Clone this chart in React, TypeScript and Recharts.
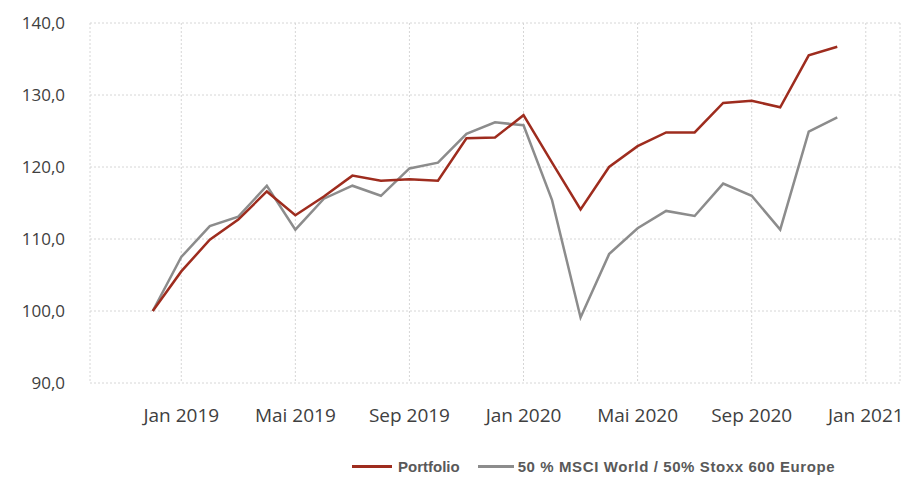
import React from 'react';
import { LineChart, Line, XAxis, YAxis, CartesianGrid } from 'recharts';

// month index 0 = Dez 2018
const months = [
  0, 1, 2, 3, 4, 5, 6, 7, 8, 9, 10, 11, 12, 13, 14, 15, 16, 17, 18, 19, 20, 21, 22, 23, 24,
];
const portfolio = [
  100.0, 105.5, 109.9, 112.7, 116.6, 113.3, 115.9, 118.8, 118.1, 118.3, 118.1, 124.0, 124.1,
  127.2, 120.6, 114.1, 120.0, 122.9, 124.8, 124.8, 128.9, 129.2, 128.3, 135.5, 136.7,
];
const benchmark = [
  100.0, 107.5, 111.8, 113.1, 117.4, 111.3, 115.6, 117.4, 116.0, 119.8, 120.6, 124.6, 126.2,
  125.8, 115.4, 99.1, 107.9, 111.5, 113.9, 113.2, 117.7, 116.0, 111.3, 124.9, 126.9,
];
const xTicks = [1, 5, 9, 13, 17, 21, 25];
const xTickLabels = ['Jan 2019', 'Mai 2019', 'Sep 2019', 'Jan 2020', 'Mai 2020', 'Sep 2020', 'Jan 2021'];
const yTicks = [90, 100, 110, 120, 130, 140];

const RED = '#9E2C1E';
const GRAY = '#8C8C8C';

const data = months.map((m, i) => ({ m, portfolio: portfolio[i], benchmark: benchmark[i] }));

const ChartLegend = () => (
  <div
    style={{
      position: 'absolute',
      top: 458,
      left: 352,
      display: 'flex',
      alignItems: 'center',
      whiteSpace: 'nowrap',
      fontFamily: '"Liberation Sans", Arial, sans-serif',
      fontWeight: 'bold',
      fontSize: 15,
      color: '#595959',
    }}
  >
    <span style={{ width: 40, height: 3, background: RED, marginRight: 6, display: 'inline-block' }} />
    <span style={{ marginRight: 18 }}>Portfolio</span>
    <span style={{ width: 36, height: 3, background: GRAY, marginRight: 4, display: 'inline-block' }} />
    <span style={{ letterSpacing: 0.6 }}>50 % MSCI World / 50% Stoxx 600 Europe</span>
  </div>
);

export default function App() {
  const font = '"Open Sans", sans-serif';
  return (
    <div style={{ position: 'fixed', left: 0, top: 0, width: 921, height: 478, background: '#fff' }}>
      <LineChart width={921} height={478} data={data} margin={{ top: 23, right: 21, bottom: 0, left: 0 }}>
        <CartesianGrid stroke="#d6d6d6" strokeDasharray="2 2" />
        <XAxis
          dataKey="m"
          type="number"
          domain={[-2.2, 26.2]}
          ticks={xTicks}
          tickFormatter={(v: number) => xTickLabels[xTicks.indexOf(v)] ?? ''}
          axisLine={false}
          tickLine={false}
          height={95}
          tickMargin={20}
          tick={{ fill: '#404040', fontSize: 19, fontFamily: font }}
          interval={0}
        />
        <YAxis
          domain={[90, 140]}
          ticks={yTicks}
          tickFormatter={(v: number) => v.toFixed(1).replace('.', ',')}
          axisLine={false}
          tickLine={false}
          width={90}
          tickMargin={19}
          tick={{ fill: '#404040', fontSize: 17, fontFamily: font }}
          interval={0}
        />
        <Line dataKey="benchmark" stroke={GRAY} strokeWidth={2.5} dot={false} isAnimationActive={false} />
        <Line dataKey="portfolio" stroke={RED} strokeWidth={2.5} dot={false} isAnimationActive={false} />
      </LineChart>
      <ChartLegend />
    </div>
  );
}
